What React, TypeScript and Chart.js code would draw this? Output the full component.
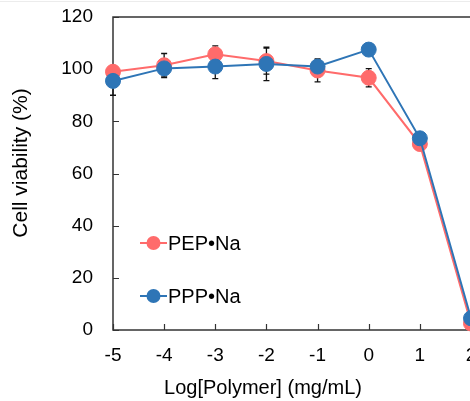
import React, { useEffect, useRef } from "react";
import { Chart, registerables } from "chart.js";

Chart.register(...registerables);

const xValues = [-5, -4, -3, -2, -1, 0, 1, 2];
const seriesNames = ["PEP•Na", "PPP•Na"];
const pepValues = [99, 101.5, 105.7, 103.1, 99.5, 96.7, 71.3, 2.5];
const pepErrors = [2, 4.5, 3.2, 5, 4.4, 3.5, 1, 1];
const pppValues = [95.5, 100.3, 101, 102, 101, 107.5, 73.5, 4.5];
const pppErrors = [5.5, 3.5, 4.6, 6.4, 2.5, 1, 1.5, 1];
const xTicks = [-5, -4, -3, -2, -1, 0, 1, 2];
const yTicks = [0, 20, 40, 60, 80, 100, 120];
const xTitle = "Log[Polymer] (mg/mL)";
const yTitle = "Cell viability (%)";

const RED = "#FF6B6B";
const BLUE = "#2E75B6";
const FONT = "'Liberation Sans', Arial, Helvetica, sans-serif";

const series = [
  { name: seriesNames[0], values: pepValues, errors: pepErrors, color: RED },
  { name: seriesNames[1], values: pppValues, errors: pppErrors, color: BLUE },
];

const decorPlugin = {
  id: "decor",
  beforeDatasetsDraw(chart: any) {
    const { ctx, chartArea: a, scales } = chart;
    const xs = scales.x;
    const ys = scales.y;
    ctx.save();
    // faint line at very top
    ctx.strokeStyle = "#ececec";
    ctx.lineWidth = 1;
    ctx.beginPath();
    ctx.moveTo(0, 1.5);
    ctx.lineTo(chart.width, 1.5);
    ctx.stroke();
    // frame
    ctx.strokeStyle = "#333";
    ctx.lineWidth = 1.5;
    ctx.strokeRect(a.left, a.top, a.right - a.left, a.bottom - a.top);
    // inward ticks
    ctx.lineWidth = 1.2;
    ctx.beginPath();
    for (const v of yTicks) {
      const y = Math.round(ys.getPixelForValue(v)) + 0.5;
      ctx.moveTo(a.left, y);
      ctx.lineTo(a.left + 6, y);
    }
    for (const v of xTicks) {
      const x = Math.round(xs.getPixelForValue(v)) + 0.5;
      ctx.moveTo(x, a.bottom);
      ctx.lineTo(x, a.bottom - 6);
    }
    ctx.stroke();
    // error bars
    ctx.strokeStyle = "#111";
    ctx.lineWidth = 1.3;
    ctx.beginPath();
    for (const s of series) {
      s.values.forEach((v, i) => {
        const e = s.errors[i];
        const x = xs.getPixelForValue(xValues[i]);
        const yt = ys.getPixelForValue(v + e);
        const yb = ys.getPixelForValue(v - e);
        ctx.moveTo(x, yt);
        ctx.lineTo(x, yb);
        ctx.moveTo(x - 3, yt);
        ctx.lineTo(x + 3, yt);
        ctx.moveTo(x - 3, yb);
        ctx.lineTo(x + 3, yb);
      });
    }
    ctx.stroke();
    ctx.restore();
  },
  afterDatasetsDraw(chart: any) {
    const { ctx, chartArea: a } = chart;
    ctx.save();
    // legend
    const rows = [243, 296];
    series.forEach((s, i) => {
      const y = rows[i];
      const x0 = a.left + 27;
      ctx.strokeStyle = s.color;
      ctx.lineWidth = 2;
      ctx.beginPath();
      ctx.moveTo(x0, y);
      ctx.lineTo(x0 + 27, y);
      ctx.stroke();
      ctx.fillStyle = s.color;
      ctx.beginPath();
      ctx.arc(x0 + 13.5, y, 7, 0, Math.PI * 2);
      ctx.fill();
      ctx.fillStyle = "#000";
      ctx.font = `20px ${FONT}`;
      ctx.textAlign = "left";
      ctx.textBaseline = "middle";
      ctx.fillText(s.name, x0 + 28, y + 1);
    });
    // axis titles
    ctx.fillStyle = "#000";
    ctx.textAlign = "center";
    ctx.textBaseline = "middle";
    ctx.font = `20px ${FONT}`;
    ctx.fillText(xTitle, a.left + 150, 388);
    ctx.translate(21, 163);
    ctx.rotate(-Math.PI / 2);
    ctx.font = `21px ${FONT}`;
    ctx.fillText(yTitle, 0, 0);
    ctx.restore();
  },
};

export default function App() {
  const ref = useRef<HTMLCanvasElement>(null);
  useEffect(() => {
    if (!ref.current) return;
    const datasets = [series[1], series[0]].map((s) => ({
      label: s.name,
      data: s.values.map((v, i) => ({ x: xValues[i], y: v })),
      borderColor: s.color,
      backgroundColor: s.color,
      pointBackgroundColor: s.color,
      pointBorderColor: s.color,
      pointBorderWidth: 1,
      pointRadius: 7.5,
      borderWidth: 2,
      tension: 0,
      clip: false as any,
    }));
    const chart = new Chart(ref.current, {
      type: "line",
      data: { datasets },
      plugins: [decorPlugin],
      options: {
        animation: false,
        responsive: false,
        maintainAspectRatio: false,
        layout: { padding: { top: 17, right: 29, left: 0, bottom: 0 } },
        plugins: { legend: { display: false }, tooltip: { enabled: false } },
        scales: {
          x: {
            type: "linear",
            min: -5,
            max: 2,
            afterFit: (scale: any) => {
              scale.height = 71;
              scale.paddingLeft = 0;
              scale.paddingRight = 0;
            },
            grid: { display: false, drawTicks: false },
            border: { display: false },
            afterBuildTicks: (scale: any) => {
              scale.ticks = xTicks.map((v) => ({ value: v }));
            },
            ticks: {
              padding: 14,
              color: "#000",
              font: { size: 19, family: FONT },
              maxRotation: 0,
            },
            title: { display: false },
          },
          y: {
            min: 0,
            max: 120,
            afterFit: (scale: any) => {
              scale.width = 113;
              scale.paddingTop = 0;
              scale.paddingBottom = 0;
            },
            grid: { display: false, drawTicks: false },
            border: { display: false },
            afterBuildTicks: (scale: any) => {
              scale.ticks = yTicks.map((v) => ({ value: v }));
            },
            ticks: {
              padding: 20,
              color: "#000",
              font: { size: 19, family: FONT },
            },
            title: { display: false },
          },
        },
      },
    });
    return () => chart.destroy();
  }, []);
  return (
    <div
      style={{
        position: "absolute",
        left: 0,
        top: 0,
        width: 470,
        height: 401,
        overflow: "hidden",
        background: "#fff",
      }}
    >
      <canvas ref={ref} width={500} height={401} style={{ display: "block" }} />
    </div>
  );
}
